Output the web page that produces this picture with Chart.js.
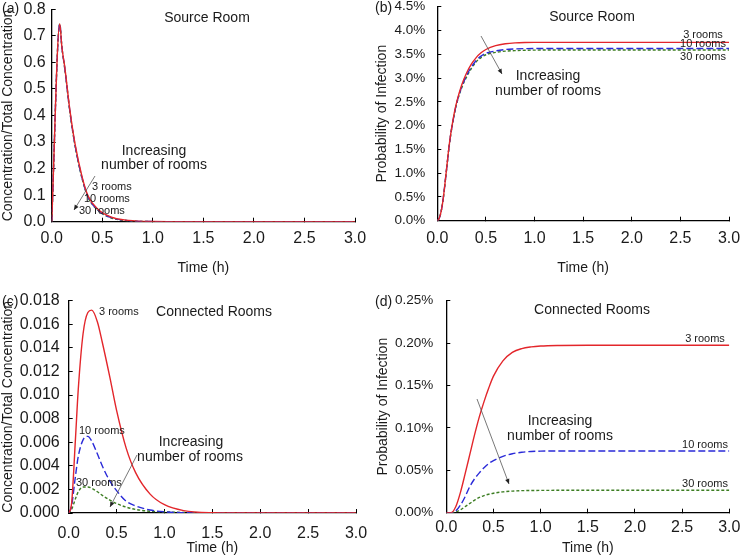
<!DOCTYPE html>
<html>
<head>
<meta charset="utf-8">
<script src="https://cdn.jsdelivr.net/npm/chart.js@4.4.1/dist/chart.umd.min.js"></script>
<style>
  html, body { margin: 0; padding: 0; background: #fff; }
  #wrap { position: relative; width: 740px; height: 557px; overflow: hidden; }
  canvas { position: absolute; }
</style>
</head>
<body>
<div id="wrap">
  <canvas id="chartA" width="370" height="277" style="left:0;top:0"></canvas>
  <canvas id="chartB" width="370" height="277" style="left:370px;top:0"></canvas>
  <canvas id="chartC" width="370" height="280" style="left:0;top:277px"></canvas>
  <canvas id="chartD" width="370" height="280" style="left:370px;top:277px"></canvas>
</div>
<script>
// shared
const seriesNames = ['3 rooms', '10 rooms', '30 rooms'];
const xTickLabels = ['0.0', '0.5', '1.0', '1.5', '2.0', '2.5', '3.0'];

// (a) source room concentration
const timeA = [0, 0.08, 0.1, 0.13, 0.18, 0.23, 0.3, 0.36, 0.46, 0.59, 0.76, 1.0, 1.5, 2.0, 3.0];
const concA3 = [0, 0.745, 0.66, 0.58, 0.42, 0.295, 0.17, 0.097, 0.046, 0.017, 0.005, 0.001, 0, 0, 0];
const concA10 = [0, 0.745, 0.66, 0.575, 0.415, 0.29, 0.165, 0.093, 0.043, 0.015, 0.004, 0.0005, 0, 0, 0];
const concA30 = [0, 0.745, 0.66, 0.575, 0.413, 0.288, 0.163, 0.092, 0.042, 0.014, 0.0035, 0.0004, 0, 0, 0];
const yTicksA = ['0.0', '0.1', '0.2', '0.3', '0.4', '0.5', '0.6', '0.7', '0.8'];

// (b) source room probability of infection (%)
const timeB = [0, 0.02, 0.04, 0.06, 0.08, 0.1, 0.12, 0.14, 0.16, 0.18, 0.2, 0.25, 0.3, 0.35, 0.4, 0.45, 0.5, 0.6, 0.7, 0.8, 0.9, 1.0, 1.5, 2.0, 3.0];
const probB3 = [0, 0.05, 0.2, 0.45, 0.8, 1.18, 1.55, 1.85, 2.1, 2.32, 2.5, 2.85, 3.1, 3.29, 3.43, 3.53, 3.6, 3.68, 3.72, 3.74, 3.748, 3.75, 3.75, 3.75, 3.75];
const probB10 = [0, 0.05, 0.2, 0.45, 0.8, 1.17, 1.54, 1.84, 2.08, 2.3, 2.48, 2.81, 3.05, 3.23, 3.37, 3.46, 3.52, 3.57, 3.6, 3.612, 3.618, 3.62, 3.62, 3.62, 3.62];
const probB30 = [0, 0.05, 0.2, 0.45, 0.79, 1.16, 1.53, 1.83, 2.07, 2.29, 2.47, 2.79, 3.02, 3.2, 3.34, 3.43, 3.49, 3.54, 3.565, 3.577, 3.583, 3.587, 3.59, 3.59, 3.59];
const yTicksB = ['0.0%', '0.5%', '1.0%', '1.5%', '2.0%', '2.5%', '3.0%', '3.5%', '4.0%', '4.5%'];

// (c) connected rooms concentration
const timeC = [0, 0.03, 0.07, 0.1, 0.15, 0.2, 0.24, 0.3, 0.35, 0.43, 0.5, 0.6, 0.7, 0.85, 1.0, 1.2, 1.5, 2.0, 3.0];
const concC3 = [0, 0.0008, 0.0062, 0.0105, 0.0152, 0.0170, 0.0172, 0.0162, 0.0145, 0.0115, 0.0087, 0.0055, 0.0034, 0.0016, 0.0007, 0.0002, 0.00003, 0, 0];
const concC10 = [0, 0.0006, 0.0031, 0.0048, 0.0062, 0.0065, 0.0061, 0.0050, 0.0040, 0.0027, 0.0019, 0.0010, 0.0006, 0.00025, 0.0001, 0.00003, 0, 0, 0];
const concC30 = [0, 0.0003, 0.0012, 0.0018, 0.0022, 0.0022, 0.0021, 0.0018, 0.0015, 0.0011, 0.0008, 0.0005, 0.0003, 0.00015, 0.0001, 0.00004, 0, 0, 0];
const yTicksC = ['0.000', '0.002', '0.004', '0.006', '0.008', '0.010', '0.012', '0.014', '0.016', '0.018'];

// (d) connected rooms probability of infection (%)
const timeD = [0, 0.05, 0.1, 0.15, 0.2, 0.25, 0.3, 0.35, 0.4, 0.45, 0.5, 0.6, 0.7, 0.8, 0.9, 1.0, 1.2, 1.5, 2.0, 3.0];
const probD3 = [0, 0, 0.007, 0.024, 0.046, 0.069, 0.092, 0.113, 0.131, 0.147, 0.161, 0.179, 0.189, 0.1935, 0.1955, 0.1965, 0.1972, 0.1975, 0.1975, 0.1975];
const probD10 = [0, 0, 0.002, 0.009, 0.019, 0.031, 0.040, 0.047, 0.053, 0.058, 0.0615, 0.0665, 0.0695, 0.0713, 0.0722, 0.0726, 0.0728, 0.0728, 0.0728, 0.0728];
const probD30 = [0, 0, 0.001, 0.0035, 0.0072, 0.011, 0.0148, 0.018, 0.0202, 0.0218, 0.023, 0.0246, 0.0255, 0.026, 0.0262, 0.0263, 0.0264, 0.0264, 0.0264, 0.0264];
const yTicksD = ['0.00%', '0.05%', '0.10%', '0.15%', '0.20%', '0.25%'];

const FONT = "'Liberation Sans', Arial, Helvetica, sans-serif";
const INK = '#1a1a1a';
const lineStyles = [
  { color: '#e3262b', dash: [], width: 1.4 },
  { color: '#2a2ad8', dash: [7, 3], width: 1.4 },
  { color: '#3c7d22', dash: [3, 2], width: 1.4 }
];

function toPoints(times, values) {
  return times.map((t, i) => ({ x: t, y: values[i] }));
}

// texts and arrows drawn on top of each panel
const notesPlugin = {
  id: 'notes',
  afterDraw(chart, args, opts) {
    const ctx = chart.ctx;
    ctx.save();
    ctx.fillStyle = INK;
    ctx.textBaseline = 'middle';
    (opts.texts || []).forEach(t => {
      ctx.font = (t.size || 14) + 'px ' + FONT;
      ctx.textAlign = t.align || 'center';
      ctx.fillText(t.text, t.x, t.y);
    });
    (opts.arrows || []).forEach(a => {
      ctx.strokeStyle = '#555';
      ctx.fillStyle = '#222';
      ctx.lineWidth = 0.8;
      ctx.beginPath();
      ctx.moveTo(a.x1, a.y1);
      ctx.lineTo(a.x2, a.y2);
      ctx.stroke();
      const ang = Math.atan2(a.y2 - a.y1, a.x2 - a.x1);
      const L = 5, Wd = 2.2;
      ctx.beginPath();
      ctx.moveTo(a.x2, a.y2);
      ctx.lineTo(a.x2 - L * Math.cos(ang) + Wd * Math.sin(ang), a.y2 - L * Math.sin(ang) - Wd * Math.cos(ang));
      ctx.lineTo(a.x2 - L * Math.cos(ang) - Wd * Math.sin(ang), a.y2 - L * Math.sin(ang) + Wd * Math.cos(ang));
      ctx.closePath();
      ctx.fill();
    });
    ctx.restore();
  }
};

function makePanel(id, p) {
  const datasets = p.series.map((vals, i) => ({
    label: seriesNames[i],
    data: toPoints(p.times, vals),
    borderColor: lineStyles[i].color,
    borderDash: lineStyles[i].dash,
    borderWidth: lineStyles[i].width,
    pointRadius: 0,
    fill: false,
    cubicInterpolationMode: 'monotone'
  }));
  return new Chart(document.getElementById(id), {
    type: 'line',
    data: { datasets },
    options: {
      responsive: false,
      animation: false,
      devicePixelRatio: 1,
      layout: { padding: { top: p.padTop, right: p.padRight, left: 0, bottom: 0 } },
      plugins: {
        legend: { display: false },
        tooltip: { enabled: false },
        notes: { texts: p.texts, arrows: p.arrows }
      },
      scales: {
        x: {
          type: 'linear',
          min: 0, max: 3,
          afterFit: s => { s.height = p.xHeight; s.paddingLeft = 0; s.paddingRight = 0; },
          ticks: {
            stepSize: 0.5,
            color: INK,
            padding: p.xTickPad,
            font: { family: FONT, size: 16 },
            maxRotation: 0,
            callback: (v, i) => xTickLabels[i]
          },
          grid: { drawOnChartArea: false, drawTicks: true, tickLength: -4, color: '#000' },
          border: { display: true, color: '#000', width: 1.3 },
          title: {
            display: true, text: 'Time (h)', color: INK,
            font: { family: FONT, size: 14 },
            padding: { top: p.xTitlePad, bottom: 0 }
          }
        },
        y: {
          min: 0, max: p.yMax,
          afterFit: s => { s.width = p.yWidth; s.paddingTop = 0; s.paddingBottom = 0; },
          ticks: {
            stepSize: p.yStep,
            color: INK,
            padding: p.yTickPad,
            font: { family: FONT, size: p.yTickSize },
            callback: (v, i) => p.yTicks[i]
          },
          grid: { drawOnChartArea: false, drawTicks: true, tickLength: -4, color: '#000' },
          border: { display: true, color: '#000', width: 1.3 },
          title: {
            display: true, text: p.yTitle, color: INK,
            font: { family: FONT, size: 14 },
            padding: { top: p.yTitlePad, bottom: 0 }
          }
        }
      }
    },
    plugins: [notesPlugin]
  });
}

makePanel('chartA', {
  times: timeA, series: [concA3, concA10, concA30],
  yMax: 0.8, yStep: 0.1, yTicks: yTicksA, yTickSize: 16,
  yTitle: 'Concentration/Total Concentration',
  padTop: 9.3, padRight: 15, yWidth: 51.7, xHeight: 55.3,
  yTickPad: 10, xTickPad: 11.7, xTitlePad: 12.9, yTitlePad: 0,
  texts: [
    { text: '(a)', x: 2, y: 9, align: 'left' },
    { text: 'Source Room', x: 207, y: 18 },
    { text: 'Increasing', x: 154, y: 151 },
    { text: 'number of rooms', x: 154, y: 165 },
    { text: '3 rooms', x: 92, y: 187, align: 'left', size: 11 },
    { text: '10 rooms', x: 84, y: 199, align: 'left', size: 11 },
    { text: '30 rooms', x: 79, y: 211, align: 'left', size: 11 }
  ],
  arrows: [{ x1: 95, y1: 176, x2: 74, y2: 210 }]
});

makePanel('chartB', {
  times: timeB, series: [probB3, probB10, probB30],
  yMax: 4.5, yStep: 0.5, yTicks: yTicksB, yTickSize: 13.5,
  yTitle: 'Probability of Infection',
  padTop: 6.7, padRight: 11, yWidth: 67.3, xHeight: 56.3,
  yTickPad: 16, xTickPad: 12.7, xTitlePad: 12.6, yTitlePad: 3.3,
  texts: [
    { text: '(b)', x: 5, y: 8, align: 'left' },
    { text: 'Source Room', x: 222, y: 17 },
    { text: 'Increasing', x: 178, y: 76 },
    { text: 'number of rooms', x: 178, y: 91 },
    { text: '3 rooms', x: 333, y: 35, size: 11 },
    { text: '10 rooms', x: 333, y: 44, size: 11 },
    { text: '30 rooms', x: 333, y: 57, size: 11 }
  ],
  arrows: [{ x1: 111, y1: 36, x2: 132, y2: 74 }]
});

makePanel('chartC', {
  times: timeC, series: [concC3, concC10, concC30],
  yMax: 0.018, yStep: 0.002, yTicks: yTicksC, yTickSize: 16,
  yTitle: 'Concentration/Total Concentration',
  padTop: 23.7, padRight: 14, yWidth: 68.7, xHeight: 44,
  yTickPad: 13, xTickPad: 15, xTitlePad: 1.6, yTitlePad: 0,
  texts: [
    { text: '(c)', x: 2, y: 25, align: 'left' },
    { text: 'Connected Rooms', x: 214, y: 35 },
    { text: 'Increasing', x: 191, y: 165 },
    { text: 'number of rooms', x: 190, y: 180 },
    { text: '3 rooms', x: 99, y: 35, align: 'left', size: 11 },
    { text: '10 rooms', x: 79, y: 154, align: 'left', size: 11 },
    { text: '30 rooms', x: 76, y: 206, align: 'left', size: 11 }
  ],
  arrows: [{ x1: 137, y1: 178, x2: 110, y2: 230 }]
});

makePanel('chartD', {
  times: timeD, series: [probD3, probD10, probD30],
  yMax: 0.25, yStep: 0.05, yTicks: yTicksD, yTickSize: 13.5,
  yTitle: 'Probability of Infection',
  padTop: 23.7, padRight: 10.7, yWidth: 76.3, xHeight: 44.3,
  yTickPad: 17, xTickPad: 9.4, xTitlePad: 4.9, yTitlePad: 4.3,
  texts: [
    { text: '(d)', x: 5, y: 25, align: 'left' },
    { text: 'Connected Rooms', x: 222, y: 33 },
    { text: 'Increasing', x: 190, y: 144 },
    { text: 'number of rooms', x: 190, y: 159 },
    { text: '3 rooms', x: 335, y: 62, size: 11 },
    { text: '10 rooms', x: 335, y: 168, size: 11 },
    { text: '30 rooms', x: 335, y: 207, size: 11 }
  ],
  arrows: [{ x1: 107, y1: 122, x2: 139, y2: 207 }]
});
</script>
</body>
</html>
